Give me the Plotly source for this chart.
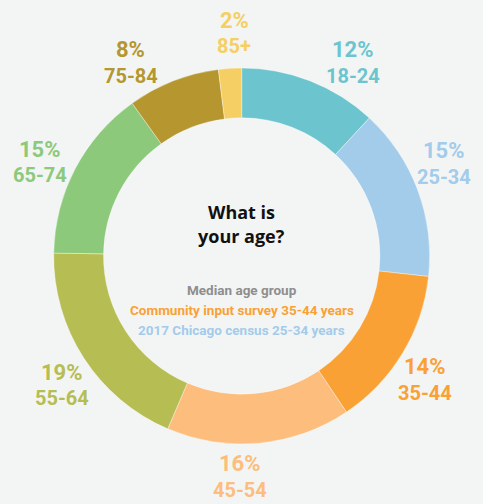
import math
import plotly.graph_objects as go

# ---- data ----
age_groups = ["18-24", "25-34", "35-44", "45-54", "55-64", "65-74", "75-84", "85+"]
percents = [12, 15, 14, 16, 19, 15, 8, 2]
colors = ["#6cc5ce", "#a3cbea", "#f9a134", "#fdbd7c", "#b6bd52", "#8dc97b", "#b5962f", "#f5cf63"]

title_lines = ["What is", "your age?"]
median_lines = ["Median age group", "Community input survey 35-44 years", "2017 Chicago census 25-34 years"]
median_colors = ["#8e8e8e", "#f9a134", "#a3cbea"]

# ---- layout parameters ----
W, H = 483, 504
CX, CY, R = 241.7, 256.0, 188.0
LABEL_R = 222.0
label_nudge_deg = [8.6, -3.8, 3.0, 5.8, -3.0, -2.9, -8.6, 1.6]
BG = "#f3f5f5"
NARROW = "Roboto, sans-serif"
BOLD = "Roboto, sans-serif"

fig = go.Figure(go.Pie(
    labels=age_groups,
    values=percents,
    marker=dict(colors=colors, line=dict(color="rgba(255,255,255,0.6)", width=0.6)),
    hole=0.735,
    sort=False,
    direction="clockwise",
    rotation=0,
    textinfo="none",
    hoverinfo="label+percent",
    domain=dict(x=[(CX - R) / W, (CX + R) / W], y=[1 - (CY + R) / H, 1 - (CY - R) / H]),
    showlegend=False,
))

annotations = []
total = sum(percents)
cum = 0
for i, (g, p) in enumerate(zip(age_groups, percents)):
    theta = math.radians((cum + p / 2) / total * 360 + label_nudge_deg[i])
    cum += p
    px = CX + LABEL_R * math.sin(theta)
    py = CY - LABEL_R * math.cos(theta)
    xp, yp = px / W, 1 - py / H
    annotations.append(dict(x=xp, y=yp, xref="paper", yref="paper", text=f"<b>{p}%</b>",
                            showarrow=False, yshift=14, xanchor="center", yanchor="middle",
                            font=dict(family=BOLD, size=22, color=colors[i])))
    annotations.append(dict(x=xp, y=yp, xref="paper", yref="paper", text=f"<b>{g}</b>",
                            showarrow=False, yshift=-12, xanchor="center", yanchor="middle",
                            font=dict(family=NARROW, size=20, color=colors[i])))

for j, line in enumerate(title_lines):
    annotations.append(dict(x=CX / W, y=1 - (212 + 24 * j) / H, xref="paper", yref="paper",
                            text=f"<b>{line}</b>", showarrow=False, xanchor="center", yanchor="middle",
                            font=dict(family="Open Sans, sans-serif", size=18, color="#111111")))

for j, (line, c) in enumerate(zip(median_lines, median_colors)):
    annotations.append(dict(x=CX / W, y=1 - (290 + 20 * j) / H, xref="paper", yref="paper",
                            text=f"<b>{line}</b>", showarrow=False, xanchor="center", yanchor="middle",
                            font=dict(family=NARROW, size=13.5, color=c)))

fig.update_layout(
    width=W, height=H,
    margin=dict(l=0, r=0, t=0, b=0),
    paper_bgcolor=BG, plot_bgcolor=BG,
    annotations=annotations,
)

fig.write_html("out.html")
